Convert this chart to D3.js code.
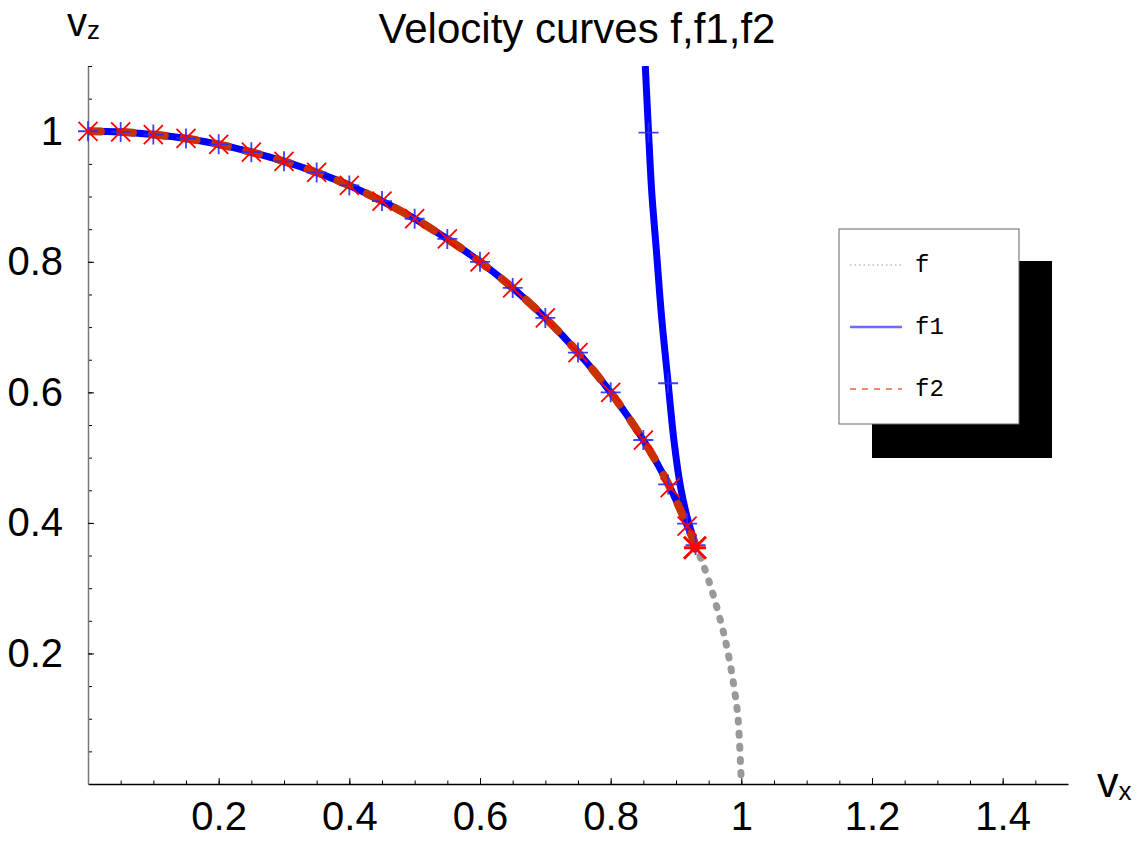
<!DOCTYPE html>
<html><head><meta charset="utf-8">
<script src="https://cdn.jsdelivr.net/npm/d3@7"></script>
<style>body{margin:0;background:#fff}svg{display:block}</style>
</head><body>
<svg id="c" width="1143" height="841"></svg>
<script>
// ---- data ----
const fX = [0,0.05,0.1,0.15,0.2,0.25,0.3,0.35,0.4,0.45,0.5,0.55,0.6,0.65,0.7,0.75,0.8,0.85,0.89,0.93,0.95,0.97,0.98,0.99,0.995,1];
const fY = [1,0.999,0.995,0.989,0.980,0.968,0.954,0.937,0.917,0.893,0.866,0.835,0.800,0.760,0.714,0.661,0.600,0.527,0.456,0.366,0.312,0.243,0.199,0.141,0.100,0];
// f1 lower branch follows f up to the junction, then the upper branch
const f1LowX = [0,0.05,0.1,0.15,0.2,0.25,0.3,0.35,0.4,0.45,0.5,0.55,0.6,0.65,0.7,0.75,0.8,0.85,0.89,0.93];
const f1LowY = [1,0.999,0.995,0.989,0.980,0.968,0.954,0.937,0.917,0.893,0.866,0.835,0.800,0.760,0.714,0.661,0.600,0.527,0.456,0.366];
const f1UpX = [0.93,0.918,0.907,0.897,0.888,0.878,0.870,0.863,0.858,0.853];
const f1UpY = [0.366,0.405,0.455,0.525,0.614,0.715,0.817,0.905,0.998,1.1];
const f2X = f1LowX, f2Y = f1LowY;
// marker positions
const plusX = [0,0.05,0.1,0.15,0.2,0.25,0.3,0.35,0.4,0.45,0.5,0.55,0.6,0.65,0.7,0.75,0.8,0.85,0.888,0.917,0.93,0.858,0.888];
const plusY = [1,0.999,0.995,0.989,0.980,0.968,0.954,0.937,0.917,0.893,0.866,0.835,0.800,0.760,0.714,0.661,0.600,0.527,0.459,0.399,0.366,0.998,0.614];
const crossX = [0,0.05,0.1,0.15,0.2,0.25,0.3,0.35,0.4,0.45,0.5,0.55,0.6,0.65,0.7,0.75,0.8,0.85,0.891,0.917];
const crossY = [1,0.999,0.995,0.989,0.980,0.968,0.954,0.937,0.917,0.893,0.866,0.835,0.800,0.760,0.714,0.661,0.600,0.527,0.454,0.395];
const junction = [[0.929,0.362]];
const xMajor = [0.2,0.4,0.6,0.8,1,1.2,1.4];
const xLabels = ["0.2","0.4","0.6","0.8","1","1.2","1.4"];
const yMajor = [0.2,0.4,0.6,0.8,1];
const yLabels = ["0.2","0.4","0.6","0.8","1"];
const xMinor = d3.range(1,30).map(i=>+(i*0.05).toFixed(2));
const yMinor = d3.range(1,23).map(i=>+(i*0.05).toFixed(2));
const legendNames = ["f","f1","f2"];
const title = "Velocity curves f,f1,f2";

// ---- drawing ----
const svg = d3.select("#c");
const x = d3.scaleLinear().domain([0,1.5]).range([88,1068]);
const y = d3.scaleLinear().domain([0,1.1]).range([784,66]);
const font = "'Liberation Sans', Arial, sans-serif";

// axes: minor ticks
svg.append("g").attr("transform","translate(0,784)")
  .call(d3.axisBottom(x).tickValues(xMinor).tickSize(-3.5).tickFormat(""))
  .call(g=>g.select(".domain").remove())
  .call(g=>g.selectAll("line").attr("stroke","#000"));
svg.append("g").attr("transform","translate(88,0)")
  .call(d3.axisLeft(y).tickValues(yMinor).tickSize(-4).tickFormat(""))
  .call(g=>g.select(".domain").remove())
  .call(g=>g.selectAll("line").attr("stroke","#000"));
// major ticks with labels
const gx = svg.append("g").attr("transform","translate(0,784)")
  .call(d3.axisBottom(x).tickValues(xMajor).tickSize(-6).tickSizeOuter(0).tickPadding(18)
        .tickFormat((d,i)=>xLabels[i]));
gx.select(".domain").attr("stroke","#000").attr("stroke-width",1.5);
gx.selectAll("line").attr("stroke","#000");
gx.selectAll("text").attr("font-family",font).attr("font-size",40).attr("fill","#000");
const gy = svg.append("g").attr("transform","translate(88,0)")
  .call(d3.axisLeft(y).tickValues(yMajor).tickSize(-6).tickSizeOuter(0).tickPadding(25)
        .tickFormat((d,i)=>yLabels[i]));
gy.select(".domain").attr("stroke","#777").attr("stroke-width",1.5);
gy.selectAll("line").attr("stroke","#000");
gy.selectAll("text").attr("font-family",font).attr("font-size",40).attr("fill","#000");

// curves
const line = d3.line().x(d=>x(d[0])).y(d=>y(d[1])).curve(d3.curveCatmullRom);
const fPts = fX.map((v,i)=>[v,fY[i]]);
const f1Low = f1LowX.map((v,i)=>[v,f1LowY[i]]);
const f1Up = f1UpX.map((v,i)=>[v,f1UpY[i]]);
const f2Pts = f2X.map((v,i)=>[v,f2Y[i]]);
svg.append("clipPath").attr("id","pc").append("rect")
  .attr("x",x(0)).attr("y",y(1.1)).attr("width",x(1.5)-x(0)).attr("height",y(0)-y(1.1)+4);
const plot = svg.append("g").attr("clip-path","url(#pc)");
plot.append("path").attr("d",line(fPts)).attr("fill","none").attr("stroke","#999")
  .attr("stroke-width",7).attr("stroke-linecap","round").attr("stroke-dasharray","2,11");
plot.append("path").attr("d",line(f1Low)).attr("fill","none").attr("stroke","#0000ff")
  .attr("stroke-width",7).attr("stroke-linejoin","round");
plot.append("path").attr("d",line(f1Up)).attr("fill","none").attr("stroke","#0000ff")
  .attr("stroke-width",7).attr("stroke-linejoin","round");
plot.append("path").attr("d",line(f2Pts)).attr("fill","none").attr("stroke","#c83200")
  .attr("stroke-width",8).attr("stroke-linecap","round").attr("stroke-dasharray","13,19");

// markers
const h = 10;
const plusG = svg.append("g").attr("stroke","#2a2aff").attr("stroke-width",1.8).attr("stroke-opacity",0.9);
plusX.forEach((v,i)=>{
  const cx=x(v), cy=y(plusY[i]);
  plusG.append("path").attr("d",`M${cx-h},${cy}H${cx+h}M${cx},${cy-h}V${cy+h}`);
});
const crossG = svg.append("g").attr("stroke","#ff0000").attr("stroke-width",1.8);
const k = 9.5;
crossX.forEach((v,i)=>{
  const cx=x(v), cy=y(crossY[i]);
  crossG.append("path").attr("d",`M${cx-k},${cy-k}L${cx+k},${cy+k}M${cx-k},${cy+k}L${cx+k},${cy-k}`);
});
junction.forEach(d=>{
  const cx=x(d[0]), cy=y(d[1]), kk=11;
  svg.append("path").attr("stroke","#ff0000").attr("stroke-width",3)
    .attr("d",`M${cx-kk},${cy-kk}L${cx+kk},${cy+kk}M${cx-kk},${cy+kk}L${cx+kk},${cy-kk}M${cx-kk},${cy}H${cx+kk}`);
  svg.append("circle").attr("cx",cx).attr("cy",cy).attr("r",5).attr("fill","#ff0000");
});

// title and axis labels
svg.append("text").attr("x",577).attr("y",43).attr("text-anchor","middle")
  .attr("font-family",font).attr("font-size",42).text(title);
const vz = svg.append("text").attr("x",67).attr("y",36).attr("font-family",font).attr("font-size",40);
vz.append("tspan").text("v");
vz.append("tspan").attr("font-size",26).attr("dy",3).text("z");
const vx = svg.append("text").attr("x",1097).attr("y",797).attr("font-family",font).attr("font-size",43);
vx.append("tspan").text("v");
vx.append("tspan").attr("font-size",26).attr("dy",3).text("x");

// legend
svg.append("rect").attr("x",872).attr("y",261).attr("width",180).attr("height",197).attr("fill","#000");
svg.append("rect").attr("x",839).attr("y",229).attr("width",180).attr("height",195)
  .attr("fill","#fff").attr("stroke","#666").attr("stroke-width",1);
const legStyles = [
  {stroke:"#bbbbbb", w:1.5, dash:"1.5,3"},
  {stroke:"#6b6bff", w:2.5, dash:null},
  {stroke:"#f06040", w:1.5, dash:"6,6"}
];
const legY = [265,327,389];
legendNames.forEach((n,i)=>{
  const l = svg.append("line").attr("x1",850).attr("x2",902).attr("y1",legY[i]).attr("y2",legY[i])
    .attr("stroke",legStyles[i].stroke).attr("stroke-width",legStyles[i].w);
  if (legStyles[i].dash) l.attr("stroke-dasharray",legStyles[i].dash);
  svg.append("text").attr("x",915).attr("y",legY[i]+7).attr("font-family","'Liberation Mono', 'Courier New', monospace")
    .attr("font-size",24).attr("fill","#000").text(n);
});
</script>
</body></html>
